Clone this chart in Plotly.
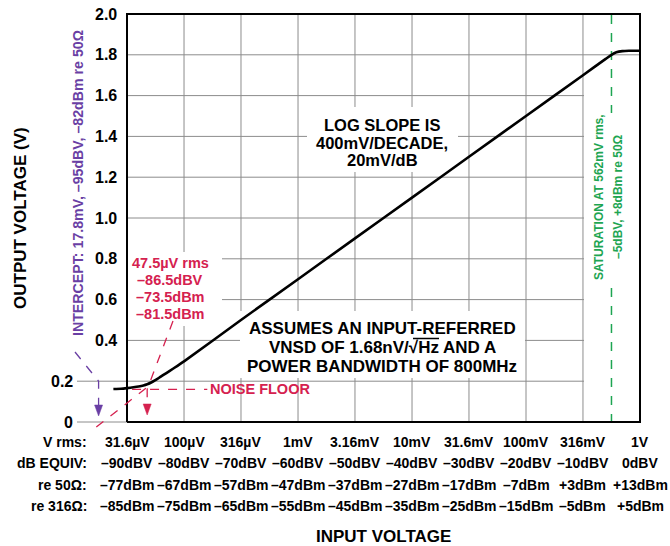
import numpy as np
import plotly.graph_objects as go

# ---------------- data ----------------
VIN = [24e-6, 28e-6, 31.6e-6, 36e-6, 40e-6, 44e-6, 47.5e-6, 52e-6, 56e-6, 62e-6,
       70e-6, 80e-6, 100e-6, 316e-6, 1e-3, 3.16e-3, 10e-3, 31.6e-3, 0.1, 0.316,
       0.5, 0.562, 0.62, 0.7, 0.8, 1.0]
VOUT = [0.162, 0.163, 0.166, 0.170, 0.174, 0.179, 0.185, 0.195, 0.205, 0.221,
        0.240, 0.261, 0.297, 0.50, 0.70, 0.90, 1.10, 1.30, 1.50, 1.70,
        1.780, 1.800, 1.812, 1.818, 1.820, 1.820]

EXTRAP_VIN = [17.0e-6, 50e-6]
EXTRAP_VOUT = [-0.025, 0.18]
NOISE_VIN = [35e-6, 160e-6]
NOISE_VOUT = [0.16, 0.16]

INTERCEPT_V = 17.8e-6
NOISE_V = 47.5e-6
NOISE_LEVEL = 0.16
SAT_V = 0.562

TICK_V = [31.6e-6, 100e-6, 316e-6, 1e-3, 3.16e-3, 10e-3, 31.6e-3, 0.1, 0.316, 1.0]
ROW_VRMS = ["31.6µV", "100µV", "316µV", "1mV", "3.16mV", "10mV", "31.6mV", "100mV", "316mV", "1V"]
ROW_DBV = ["–90dBV", "–80dBV", "–70dBV", "–60dBV", "–50dBV", "–40dBV", "–30dBV", "–20dBV", "–10dBV", "0dBV"]
ROW_50 = ["–77dBm", "–67dBm", "–57dBm", "–47dBm", "–37dBm", "–27dBm", "–17dBm", "–7dBm", "+3dBm", "+13dBm"]
ROW_316 = ["–85dBm", "–75dBm", "–65dBm", "–55dBm", "–45dBm", "–35dBm", "–25dBm", "–15dBm", "–5dBm", "+5dBm"]
ROW_LABELS = ["V rms:", "dB EQUIV:", "re 50Ω:", "re 316Ω:"]
Y_TICKS = [0, 0.2, 0.4, 0.6, 0.8, 1.0, 1.2, 1.4, 1.6, 1.8, 2.0]
Y_TICK_TEXT = ["0", "0.2", "0.4", "0.6", "0.8", "1.0", "1.2", "1.4", "1.6", "1.8", "2.0"]

# ---------------- geometry (pixels) ----------------
W, H = 670, 546
FX0, FX1, FY0, FY1 = 127, 640, 422, 14        # frame
PL, PR, PT, PB = 60, 644, 10, 428             # full plot area
LOG_L, LOG_R = np.log10(TICK_V[0]), np.log10(TICK_V[-1])
PXD = (FX1 - FX0) / (LOG_R - LOG_L)
PXV = (FY0 - FY1) / 2.0
XR = [LOG_L - (FX0 - PL) / PXD, LOG_R + (PR - FX1) / PXD]
YR = [-(PB - FY0) / PXV, 2.0 + (FY1 - PT) / PXV]

def xpx(v):
    return FX0 + PXD * (np.log10(v) - LOG_L)

def ypx(val):
    return FY0 - PXV * val

def vx(x):          # pixel -> data (x)
    return 10 ** (LOG_L + (x - FX0) / PXD)

def vy(y):          # pixel -> data (y)
    return (FY0 - y) / PXV

def px(x):
    return (x - PL) / (PR - PL)

def py(y):
    return (PB - y) / (PB - PT)

FONT = "Liberation Sans, Arial, Helvetica, sans-serif"
GRID = "#8c8c8c"
RED = "#d5214f"
PURPLE = "#6a3fa4"
GREEN = "#1ea552"

fig = go.Figure()

def tr(x, y, color, width, dash="solid", fill=None):
    fig.add_trace(go.Scatter(x=list(x), y=list(y), mode="lines", hoverinfo="skip",
                             line=dict(color=color, width=width, dash=dash),
                             fill=fill, fillcolor="white" if fill else None))

# gridlines
for v in TICK_V[1:-1]:
    tr([v, v], [0, 2], GRID, 1)
for yv in Y_TICKS[1:-1]:
    tr([TICK_V[0], TICK_V[-1]], [yv, yv], GRID, 1)
for yv in Y_TICKS[:2]:
    tr([vx(77), TICK_V[0]], [yv, yv], GRID, 1)

# white boxes hiding gridlines behind labels
def box(x0, y0, x1, y1):
    xs = [vx(x0), vx(x1), vx(x1), vx(x0), vx(x0)]
    ys = [vy(y0), vy(y0), vy(y1), vy(y1), vy(y0)]
    tr(xs, ys, "rgba(0,0,0,0)", 0, fill="toself")

box(FX0, 252, 222, 326)
box(307, 107, 458, 172)
box(240, 311, 525, 378)
box(xpx(TICK_V[-2]) + 1, 80, FX1, FY0)

# frame
tr([TICK_V[0], TICK_V[-1], TICK_V[-1], TICK_V[0], TICK_V[0]], [0, 0, 2, 2, 0], "black", 2)

# saturation marker
tr([SAT_V, SAT_V], [vy(FY1 + 1), vy(113)], GREEN, 1.5, "dash")
tr([SAT_V, SAT_V], [vy(288), vy(FY0 - 1)], GREEN, 1.5, "dash")

# intercept marker
tr([vx(75), INTERCEPT_V, INTERCEPT_V], [vy(352), 0.2, vy(406)], PURPLE, 1.3, "dash")
# noise marker
tr([vx(173), NOISE_V, NOISE_V], [vy(321), NOISE_LEVEL, vy(405)], RED, 1.3, "dash")
# extrapolated log line and noise floor
tr(EXTRAP_VIN, EXTRAP_VOUT, RED, 1.3, "dash")
tr(NOISE_VIN, NOISE_VOUT, RED, 1.3, "dash")
# overline of sqrt(Hz)
tr([vx(413), vx(439)], [vy(338.5), vy(338.5)], "black", 1.5)

# main curve
fig.add_trace(go.Scatter(x=VIN, y=VOUT, mode="lines", hoverinfo="skip",
                         line=dict(color="black", width=2.6, shape="spline", smoothing=0.6)))

shapes = []
def tri(xt, yt, yb, hw, color):
    path = "M {:.5f} {:.5f} L {:.5f} {:.5f} L {:.5f} {:.5f} Z".format(
        px(xt), py(yt), px(xt - hw), py(yb), px(xt + hw), py(yb))
    shapes.append(dict(type="path", xref="paper", yref="paper", path=path,
                       fillcolor=color, line=dict(color=color, width=0.5), layer="above"))

tri(xpx(INTERCEPT_V), 416, 405, 4, PURPLE)
tri(xpx(NOISE_V), 415, 404, 4, RED)

annotations = []
def text(x, y, s, size, color="black", xanchor="center", angle=0):
    annotations.append(dict(xref="paper", yref="paper", x=px(x), y=py(y), text=s,
                            showarrow=False, xanchor=xanchor, yanchor="middle",
                            textangle=angle,
                            font=dict(family=FONT, size=size, color=color, weight="bold")))

# y tick labels
for yv, t in zip(Y_TICKS, Y_TICK_TEXT):
    text(75 if yv < 0.3 else 119, ypx(yv), t, 16, xanchor="right")

# bottom label rows
ROW_Y = [442, 463, 485, 506]
for ry, lab, row in zip(ROW_Y, ROW_LABELS, [ROW_VRMS, ROW_DBV, ROW_50, ROW_316]):
    text(89, ry, lab, 14, xanchor="right")
    for v, t in zip(TICK_V, row):
        text(xpx(v), ry, t, 14)

# axis titles
text(383, 537, "INPUT VOLTAGE", 17)
text(20, 218, "OUTPUT VOLTAGE (V)", 17, angle=-90)

# callouts
for yy, s in zip([125, 142.5, 160], ["LOG SLOPE IS", "400mV/DECADE,", "20mV/dB"]):
    text(382, yy, s, 16.5)
for yy, s in zip([328, 347.5, 366.5], ["ASSUMES AN INPUT-REFERRED",
                                       "VNSD OF 1.68nV/√Hz AND A",
                                       "POWER BANDWIDTH OF 800MHz"]):
    text(382, yy, s, 17)
for yy, s in zip([263, 280, 297, 313.5], ["47.5µV rms", "–86.5dBV", "–73.5dBm", "–81.5dBm"]):
    text(170, yy, s, 14.5, color=RED)
text(208, 389, "NOISE FLOOR", 14.5, color=RED, xanchor="left")
text(78, 183, "INTERCEPT: 17.8mV, –95dBV, –82dBm re 50Ω", 14.2, color=PURPLE, angle=-90)
text(599, 197, "SATURATION AT 562mV rms,", 12, color=GREEN, angle=-90)
text(618, 197, "–5dBV, +8dBm re 50Ω", 12, color=GREEN, angle=-90)

axis_common = dict(zeroline=False, ticks="", showticklabels=False, showgrid=False,
                   showline=False, fixedrange=True)
fig.update_layout(
    width=W, height=H,
    margin=dict(l=PL, r=W - PR, t=PT, b=H - PB, pad=0),
    paper_bgcolor="white", plot_bgcolor="white",
    showlegend=False, hovermode=False,
    xaxis=dict(type="log", range=XR, **axis_common),
    yaxis=dict(range=YR, **axis_common),
    shapes=shapes, annotations=annotations,
)

fig.write_html("out.html", config={"displayModeBar": False},
               post_script="document.body.style.margin='0px';")
